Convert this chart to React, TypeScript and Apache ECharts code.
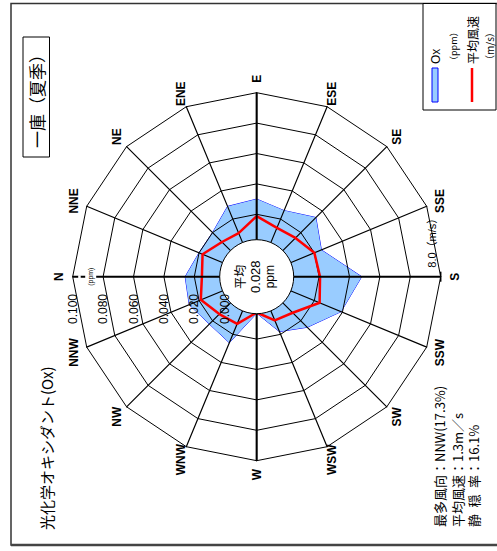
import React, { useEffect, useRef } from "react";
import * as echarts from "echarts";

// ---- data ----
const directions = ["N", "NNE", "NE", "ENE", "E", "ESE", "SE", "SSE", "S", "SSW", "SW", "WSW", "W", "WNW", "NW", "NNW"];
const oxValues = [0.026, 0.020, 0.020, 0.029, 0.030, 0.026, 0.034, 0.025, 0.048, 0.039, 0.026, 0.018, 0.003, 0.026, 0.023, 0.027];
const windValues = [1.2, 1.4, 0.9, 0.8, 1.5, 1.1, 1.2, 1.6, 1.65, 1.9, 1.0, 0.8, 0.2, 1.0, 1.1, 1.5];
const oxTicks = [0.0, 0.02, 0.04, 0.06, 0.08, 0.1];
const oxTickLabels = ["0.000", "0.020", "0.040", "0.060", "0.080", "0.100"];
const oxMax = 0.1;
const windMax = 8;
const windMaxLabel = "8.0（m/s）";
const meanLabel = ["平均", "0.028", "ppm"];
const title = "光化学オキシダント(Ox)";
const station = "一庫（夏季）";
const stats = ["最多風向：NNW(17.3%)", "平均風速：1.3m／s", "静\u2002穏\u2002率：16.1%"];

// ---- layout (unrotated canvas, rotated -90deg by CSS) ----
const W = 551;
const H = 497;
const cx = 274.3;
const cy = 256.7;
const r0 = 32;
const R = 184;

const order = directions.map((_, i) => (16 - i) % 16); // ECharts radar runs counter-clockwise

function unit(i: number) {
  const a = (i * 22.5 * Math.PI) / 180;
  return [Math.sin(a), -Math.cos(a)];
}

function txt(text: string, x: number, y: number, font: string, align = "center", vAlign = "middle", extra: any = {}) {
  return {
    type: "text",
    x,
    y,
    z: 20,
    silent: true,
    style: {
      text,
      font,
      fill: "#000",
      align,
      verticalAlign: vAlign,
      textAlign: align,
      textVerticalAlign: vAlign,
      ...extra,
    },
  };
}

const JP = '"Noto Sans CJK JP", sans-serif';
const LAT = '"Liberation Sans", "Noto Sans CJK JP", Arial, sans-serif';

function buildOption() {
  const graphics: any[] = [];
  // frame
  graphics.push({ type: "rect", z: 1, silent: true, shape: { x: 6, y: 11, width: 541.5, height: 500 }, style: { fill: "none", stroke: "#333", lineWidth: 1.5 } });
  graphics.push({ type: "line", z: 1, silent: true, shape: { x1: 6, y1: 11, x2: 6, y2: 510 }, style: { stroke: "#444", lineWidth: 2.5 } });
  // title
  graphics.push(txt(title, 21, 46, `15px ${JP}`, "left"));
  // station box
  graphics.push({ type: "rect", z: 5, silent: true, shape: { x: 394, y: 23, width: 120, height: 26.5 }, style: { fill: "#fff", stroke: "#000", lineWidth: 1 } });
  graphics.push(txt(station, 454, 36.5, `17px ${JP}`));
  // legend box
  graphics.push({ type: "rect", z: 5, silent: true, shape: { x: 441, y: 423, width: 106.5, height: 73 }, style: { fill: "#fff", stroke: "#000", lineWidth: 1 } });
  graphics.push({ type: "rect", z: 6, silent: true, shape: { x: 449, y: 432, width: 34, height: 6 }, style: { fill: "#99ccff", stroke: "#0000ff", lineWidth: 1 } });
  graphics.push({ type: "line", z: 6, silent: true, shape: { x1: 449, y1: 472, x2: 483, y2: 472 }, style: { stroke: "#ff0000", lineWidth: 2.5 } });
  graphics.push(txt("Ox", 487, 435.5, `12px ${LAT}`, "left"));
  graphics.push(txt("（ppm）", 486, 453, `9px ${JP}`, "left"));
  graphics.push(txt("平均風速", 487, 472, `12px ${JP}`, "left"));
  graphics.push(txt("（m/s）", 486, 489, `10px ${JP}`, "left"));
  // stats
  const statY = [439, 457, 473];
  stats.forEach((s, i) => graphics.push(txt(s, 24, statY[i], `13px ${JP}`, "left")));

  // cardinal spokes thicker
  [0, 4, 8, 12].forEach((i) => {
    const [dx, dy] = unit(i);
    graphics.push({ type: "line", z: 7, silent: true, shape: { x1: cx + dx * r0, y1: cy + dy * r0, x2: cx + dx * R, y2: cy + dy * R }, style: { stroke: "#000", lineWidth: 2 } });
  });
  // tick at S end
  graphics.push({ type: "line", z: 7, silent: true, shape: { x1: cx - 5, y1: cy + R, x2: cx + 5, y2: cy + R }, style: { stroke: "#000", lineWidth: 1.5 } });
  // small gap on N spoke (dash look)
  graphics.push({ type: "line", z: 8, silent: true, shape: { x1: cx, y1: cy - 176, x2: cx, y2: cy - 178.5 }, style: { stroke: "#fff", lineWidth: 3 } });
  // direction labels
  directions.forEach((d, i) => {
    const [dx, dy] = unit(i);
    graphics.push(txt(d, cx + dx * 198, cy + dy * 198, `bold 12px ${LAT}`));
  });
  // inner circle
  graphics.push({ type: "circle", z: 15, silent: true, shape: { cx, cy, r: 37 }, style: { fill: "#fff", stroke: "#000", lineWidth: 1 } });
  graphics.push(txt(meanLabel[0], cx, cy - 17, `12px ${JP}`));
  graphics.push(txt(meanLabel[1], cx, cy - 1, `13px ${LAT}`));
  graphics.push(txt(meanLabel[2], cx, cy + 13, `12px ${LAT}`));
  // tick labels along N axis
  oxTicks.forEach((v, i) => {
    const y = cy - (r0 + (v / oxMax) * (R - r0));
    graphics.push(txt(oxTickLabels[i], 242, y, `12px ${LAT}`));
  });
  graphics.push(txt("(ppm)", cx, cy - 166, `7px ${LAT}`, "center", "middle", { backgroundColor: "#fff", padding: [2, 1] }));
  // wind scale label
  graphics.push(txt(windMaxLabel, cx + 9, cy + R - 8.5, `11px ${LAT}`, "left"));

  const radarBase = {
    center: [cx, cy],
    radius: [r0, R],
    startAngle: 90,
    shape: "polygon",
    splitNumber: 5,
    silent: true,
    axisName: { show: false },
    axisTick: { show: false },
    axisLabel: { show: false },
    splitArea: { show: false },
  };

  return {
    animation: false,
    backgroundColor: "#fff",
    radar: [
      {
        ...radarBase,
        z: 3,
        indicator: order.map((i) => ({ name: directions[i], min: 0, max: oxMax })),
        splitLine: { lineStyle: { color: "#000", width: 1 } },
        axisLine: { lineStyle: { color: "#000", width: 1.2 } },
      },
      {
        ...radarBase,
        z: 0,
        indicator: order.map((i) => ({ name: directions[i], min: 0, max: windMax })),
        splitLine: { show: false },
        axisLine: { show: false },
      },
    ],
    series: [
      {
        type: "radar",
        radarIndex: 0,
        z: 2,
        symbol: "none",
        silent: true,
        data: [
          {
            name: "Ox",
            value: order.map((i) => oxValues[i]),
            areaStyle: { color: "#99ccff", opacity: 1 },
            lineStyle: { color: "#0000ff", width: 1 },
          },
        ],
      },
      {
        type: "radar",
        radarIndex: 1,
        z: 4,
        symbol: "none",
        silent: true,
        data: [
          {
            name: "平均風速",
            value: order.map((i) => windValues[i]),
            lineStyle: { color: "#ff0000", width: 2.5 },
          },
        ],
      },
    ],
    graphic: { elements: graphics },
  };
}

export default function App() {
  const ref = useRef<HTMLDivElement>(null);
  useEffect(() => {
    if (!ref.current) return;
    const chart = echarts.init(ref.current, null, { renderer: "svg", width: W, height: H });
    chart.setOption(buildOption() as any);
    return () => chart.dispose();
  }, []);
  return (
    <div style={{ position: "absolute", left: 0, top: 0, width: 497, height: 551, overflow: "hidden", background: "#fff" }}>
      <div
        ref={ref}
        style={{
          position: "absolute",
          left: 0,
          top: 0,
          width: W,
          height: H,
          transform: "translate(0px, 551px) rotate(-90deg)",
          transformOrigin: "0 0",
        }}
      />
    </div>
  );
}
